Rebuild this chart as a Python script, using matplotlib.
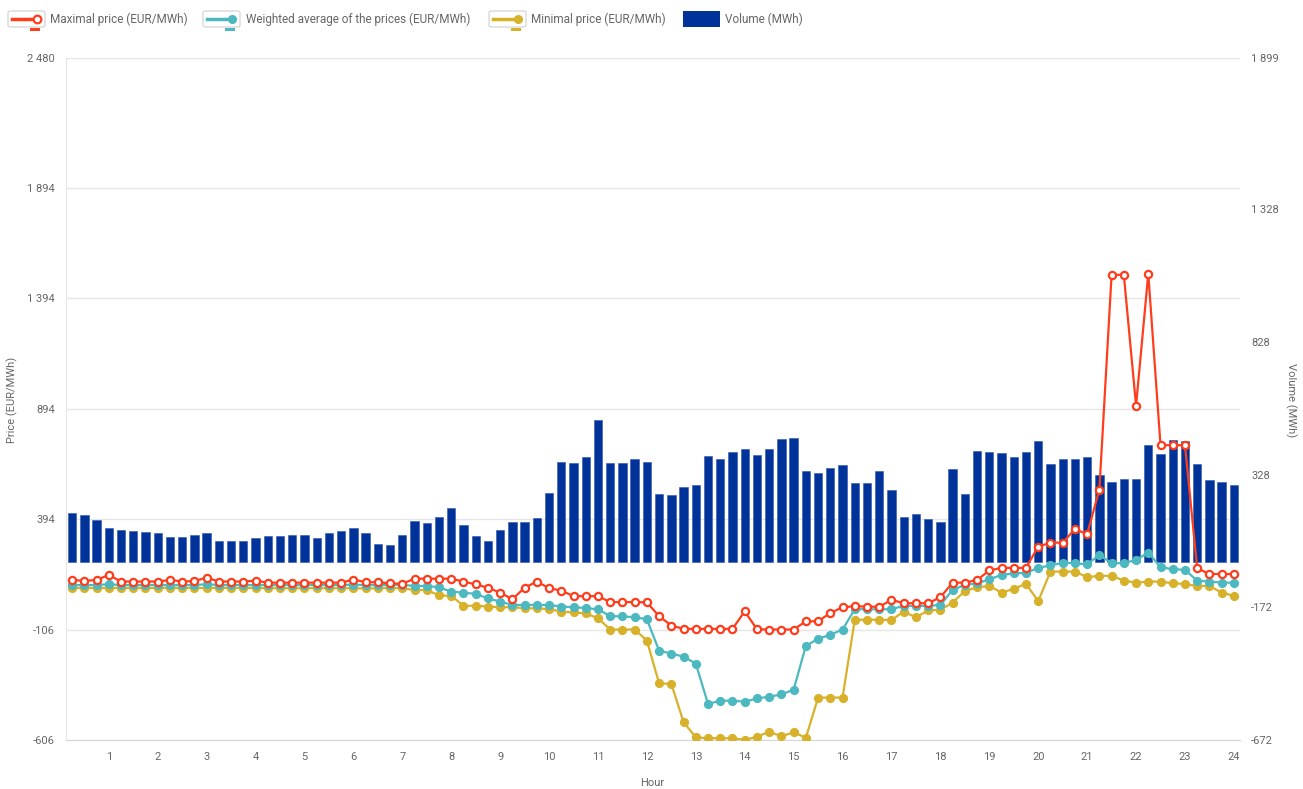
import numpy as np
import matplotlib
matplotlib.use("Agg")
import matplotlib.pyplot as plt
from matplotlib.patches import Rectangle, FancyBboxPatch
from matplotlib.lines import Line2D

plt.rcParams['font.family'] = ['Roboto', 'DejaVu Sans']

# ---------------- data ----------------
hour_labels = [str(h) for h in range(1, 25)]

volume = [183, 175, 158, 126, 121, 117, 113, 109, 94, 94, 102, 108,
          77, 77, 80, 89, 98, 98, 102, 102, 89, 108, 117, 126,
          108, 68, 63, 100, 153, 145, 170, 202, 137, 97, 79, 121,
          148, 148, 166, 259, 377, 374, 393, 535, 374, 374, 389, 377,
          254, 250, 283, 291, 397, 387, 415, 425, 403, 425, 464, 467,
          342, 333, 354, 366, 297, 297, 342, 269, 170, 181, 162, 150,
          349, 255, 418, 415, 411, 394, 412, 456, 369, 387, 389, 394,
          328, 300, 313, 313, 440, 406, 460, 456, 369, 309, 300, 290]

max_price = [118, 114, 118, 141, 111, 111, 111, 111, 118, 111, 113, 129,
             111, 111, 111, 115, 106, 106, 106, 106, 106, 106, 106, 120,
             108, 108, 103, 101, 124, 124, 124, 124, 111, 98, 83, 61,
             31, 83, 111, 81, 70, 45, 45, 45, 18, 18, 18, 17,
             -46, -88, -103, -103, -103, -103, -103, -24, -105, -106, -106, -106,
             -69, -69, -31, -6, 0, -3, -3, 28, 13, 13, 13, 40,
             106, 106, 118, 161, 173, 173, 173, 269, 287, 287, 348, 326,
             526, 1499, 1499, 907, 1504, 728, 728, 728, 171, 145, 145, 145]

avg_price = [95, 95, 95, 99, 95, 95, 95, 95, 95, 95, 95, 99,
             95, 95, 95, 95, 95, 95, 95, 95, 95, 95, 95, 97,
             95, 95, 96, 96, 91, 91, 85, 65, 61, 55, 35, 20,
             5, 5, 5, 5, -2, -5, -9, -15, -45, -47, -50, -60,
             -202, -215, -229, -260, -443, -428, -428, -433, -418, -410, -400, -378,
             -180, -148, -130, -106, -14, -14, -15, -14, 1, 1, 1, 5,
             73, 96, 103, 121, 141, 148, 150, 173, 184, 196, 194, 189,
             231, 194, 194, 209, 242, 176, 167, 164, 115, 111, 106, 106]

min_price = [82, 82, 82, 82, 82, 82, 82, 82, 82, 82, 82, 82,
             82, 82, 82, 82, 81, 81, 81, 81, 81, 81, 81, 81,
             80, 80, 83, 80, 73, 73, 48, 46, 2, 1, -2, -5,
             -5, -10, -10, -14, -25, -29, -33, -55, -106, -106, -106, -156,
             -350, -352, -525, -594, -598, -598, -598, -606, -591, -569, -589, -571,
             -596, -414, -414, -414, -62, -62, -62, -63, -25, -51, -20, -17,
             16, 68, 85, 91, 61, 78, 101, 22, 156, 156, 156, 131,
             137, 137, 115, 106, 111, 111, 103, 100, 91, 91, 61, 46]

price_ticks = [-606, -106, 394, 894, 1394, 1894, 2480]
volume_ticks = [-672, -172, 328, 828, 1328, 1899]

# ---------------- style ----------------
W, H = 1303, 789
C_MAX = '#ff3d1c'
C_AVG = '#4cb8c0'
C_MIN = '#d8b12a'
C_BAR = '#00339a'
C_TXT = '#666666'
C_GRID = '#e6e6e6'


def fmt(v):
    return f"{v:,}".replace(",", " ")


def px(x, y):
    return (x / W, 1 - y / H)


fig = plt.figure(figsize=(W / 100, H / 100), dpi=100)
left, right, top, bottom = 66, 1240, 58, 740
axv = fig.add_axes([left / W, 1 - bottom / H, (right - left) / W, (bottom - top) / H])
axp = axv.twinx()

x = np.arange(len(volume))
plo, phi = price_ticks[0], price_ticks[-1]
vlo, vhi = volume_ticks[0], volume_ticks[-1]

# gridlines (behind bars) at price tick positions, expressed in volume units
for t in price_ticks:
    g = vlo + (t - plo) / (phi - plo) * (vhi - vlo)
    axv.axhline(g, color=C_GRID, lw=1, zorder=0)

axv.bar(x, volume, width=0.68, color=C_BAR, zorder=2, edgecolor='#3355aa', linewidth=0.4)
axv.set_ylim(vlo, vhi)
axv.set_xlim(-0.5, len(volume) - 0.5)

axp.plot(x, min_price, color=C_MIN, lw=1.6, marker='o', ms=5.6, mfc=C_MIN, mec=C_MIN, zorder=3)
axp.plot(x, avg_price, color=C_AVG, lw=1.6, marker='o', ms=5.6, mfc=C_AVG, mec=C_AVG, zorder=4)
axp.plot(x, max_price, color=C_MAX, lw=1.6, marker='o', ms=5.2, mfc='white', mec=C_MAX, mew=1.6, zorder=5)
axp.set_ylim(plo, phi)

# axes sides: price on left, volume on right
axp.yaxis.tick_left()
axv.yaxis.tick_right()
axp.set_yticks(price_ticks)
axp.set_yticklabels([fmt(t) for t in price_ticks])
axv.set_yticks(volume_ticks)
axv.set_yticklabels([fmt(t) for t in volume_ticks])

axv.set_xticks(np.arange(3, len(volume), 4))
axv.set_xticklabels(hour_labels)

for a in (axv, axp):
    a.tick_params(axis='both', length=0, labelsize=8, labelcolor=C_TXT)
    for s in a.spines.values():
        s.set_visible(False)
axp.tick_params(axis='y', pad=8)
axv.tick_params(axis='y', pad=8)
axv.tick_params(axis='x', pad=9)
axp.patch.set_visible(False)

axv.spines['left'].set_visible(True)
axv.spines['left'].set_color(C_GRID)
axv.spines['bottom'].set_visible(True)
axv.spines['bottom'].set_color('#d6d6d6')

# axis titles
fig.text(*px(652, 783), 'Hour', ha='center', va='center', fontsize=8, color=C_TXT)
fig.text(*px(12, 400), 'Price (EUR/MWh)', ha='center', va='center', rotation=90,
         fontsize=8, color=C_TXT)
fig.text(*px(1291, 400), 'Volume (MWh)', ha='center', va='center', rotation=270,
         fontsize=8, color=C_TXT)

# legend (drawn manually)
legend_items = [
    ('Maximal price (EUR/MWh)', C_MAX, 'hollow', 8, 50),
    ('Weighted average of the prices (EUR/MWh)', C_AVG, 'filled', 203, 246),
    ('Minimal price (EUR/MWh)', C_MIN, 'filled', 489, 531),
]
ly = 19
for label, col, kind, bx, tx in legend_items:
    box = FancyBboxPatch(px(bx, 27), 37 / W, 16 / H, boxstyle='round,pad=0,rounding_size=0.002',
                         transform=fig.transFigure, facecolor='white', edgecolor='#d0d0d0', lw=0.8)
    fig.add_artist(box)
    fig.add_artist(Line2D([px(bx + 4, ly)[0], px(bx + 27, ly)[0]], [px(0, ly)[1]] * 2,
                          transform=fig.transFigure, color=col, lw=2.5))
    if kind == 'hollow':
        fig.add_artist(Line2D([px(bx + 29, ly)[0]], [px(0, ly)[1]], transform=fig.transFigure,
                              marker='o', ms=5.5, mfc='white', mec=col, mew=1.6, lw=0))
    else:
        fig.add_artist(Line2D([px(bx + 29, ly)[0]], [px(0, ly)[1]], transform=fig.transFigure,
                              marker='o', ms=5.5, mfc=col, mec=col, lw=0))
    fig.add_artist(Rectangle(px(bx + 22, 31), 10 / W, 3 / H, transform=fig.transFigure,
                             facecolor=col, edgecolor='none'))
    fig.text(*px(tx, ly), label, ha='left', va='center', fontsize=8.5, color=C_TXT)

fig.add_artist(Rectangle(px(683, 27), 37 / W, 16 / H, transform=fig.transFigure,
                         facecolor=C_BAR, edgecolor='none'))
fig.text(*px(725, ly), 'Volume (MWh)', ha='left', va='center', fontsize=8.5, color=C_TXT)

fig.savefig('out.png', dpi=100, facecolor='white')
